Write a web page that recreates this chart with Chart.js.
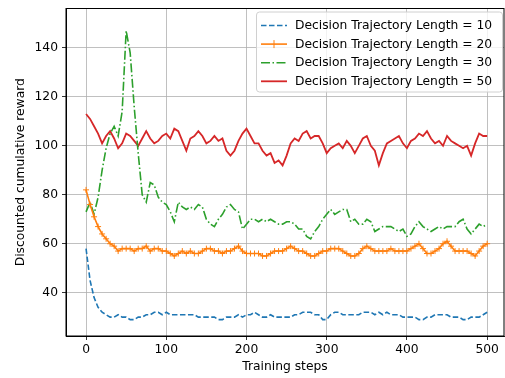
<!DOCTYPE html>
<html>
<head>
<meta charset="utf-8">
<script src="https://cdn.jsdelivr.net/npm/chart.js@4.4.1/dist/chart.umd.min.js"></script>
<style>
  html, body { margin: 0; padding: 0; background: #fff; overflow: hidden; }
  #wrap { width: 505px; height: 378px; }
</style>
</head>
<body>
<div id="wrap"><canvas id="chart" width="505" height="378"></canvas></div>
<script>
// Training steps sampled every 5 steps (0..500)
const steps = Array.from({ length: 101 }, (_, i) => i * 5);

const xTicks = [0, 100, 200, 300, 400, 500];
const yTicks = [40, 60, 80, 100, 120, 140];

const labels = [
    "Decision Trajectory Length = 10",
    "Decision Trajectory Length = 20",
    "Decision Trajectory Length = 30",
    "Decision Trajectory Length = 50"
];

// Values
const len10 = [
    58, 45, 38, 34, 32, 31, 30, 30, 31, 30,
    30, 29, 29, 30, 30, 31, 31, 32, 32, 31,
    32, 31, 31, 31, 31, 31, 31, 31, 30, 30,
    30, 30, 30, 29, 29, 30, 30, 30, 31, 30,
    31, 31, 32, 31, 30, 30, 31, 30, 30, 30,
    30, 30, 31, 31, 32, 32, 32, 31, 31, 29,
    29, 31, 32, 32, 31, 31, 31, 31, 31, 32,
    32, 32, 31, 32, 31, 32, 31, 31, 31, 30,
    30, 30, 30, 29, 29, 30, 30, 31, 31, 31,
    31, 30, 30, 30, 29, 29, 30, 30, 30, 31,
    32
];

const len20 = [
    82, 76, 71, 67, 64, 62, 60, 59, 57, 58,
    58, 58, 57, 58, 58, 59, 57, 58, 58, 57,
    57, 56, 55, 56, 57, 56, 57, 56, 56, 57,
    58, 58, 57, 57, 56, 57, 57, 58, 59, 57,
    56, 56, 56, 56, 55, 55, 56, 57, 57, 57,
    58, 59, 58, 57, 57, 56, 55, 55, 56, 57,
    57, 58, 58, 58, 57, 56, 55, 55, 56, 58,
    59, 58, 57, 57, 57, 57, 58, 57, 57, 57,
    57, 58, 59, 60, 58, 56, 56, 57, 58, 60,
    61, 59, 57, 57, 57, 57, 56, 55, 57, 59,
    60
];

const len30 = [
    73, 77, 72, 79, 90, 99, 105, 108, 104, 114,
    147, 138, 116, 97, 80, 77, 85, 84, 79, 77,
    76, 73, 69, 77, 75, 74, 75, 74, 76, 75,
    70, 68, 67, 70, 72, 75, 76, 74, 73, 66,
    68, 70, 70, 69, 70, 69, 70, 69, 68, 68,
    69, 69, 68, 66, 66, 63, 62, 65, 67, 70,
    72, 74, 72, 73, 74, 74, 69, 70, 68, 68,
    70, 69, 65, 66, 67, 67, 67, 66, 65, 66,
    63, 64, 67, 69, 67, 66, 65, 66, 67, 66,
    67, 67, 67, 69, 70, 66, 64, 66, 68, 67,
    68
];

const len50 = [
    113, 111, 108, 105, 101, 104, 106, 103, 99, 101,
    105, 104, 102, 100, 103, 106, 103, 101, 102, 104,
    105, 103, 107, 106, 102, 98, 103, 104, 106, 104,
    101, 102, 104, 102, 103, 98, 96, 98, 102, 105,
    107, 104, 101, 101, 98, 96, 97, 93, 94, 92,
    96, 101, 103, 102, 105, 106, 103, 104, 104, 101,
    97, 99, 100, 101, 99, 102, 100, 97, 100, 103,
    104, 100, 98, 92, 97, 101, 102, 103, 104, 101,
    99, 102, 103, 105, 104, 106, 103, 101, 102, 100,
    104, 102, 101, 100, 99, 100, 96, 101, 105, 104,
    104
];

function points(values) {
    return values.map((v, i) => ({ x: steps[i], y: v }));
}

const FONT = "DejaVu Sans";
const FONT_SIZE = 12.3;

Chart.defaults.color = "#000";
Chart.defaults.font.family = FONT;
Chart.defaults.font.size = FONT_SIZE;

// Box round the axes, like matplotlib spines
const frame = {
    id: "frame",
    afterDatasetsDraw(chart) {
        const { ctx, chartArea: a } = chart;
        ctx.save();
        ctx.strokeStyle = "#000";
        ctx.lineWidth = 1;
        ctx.strokeRect(a.left, a.top, a.right - a.left, a.bottom - a.top);
        ctx.restore();
    }
};

// Legend drawn by hand so the line samples keep their dash / marker style
const legendBox = {
    id: "legendBox",
    afterDraw(chart) {
        const { ctx, chartArea: a } = chart;
        const w = 246, h = 80;
        const x0 = a.right - 2 - w, y0 = a.top + 3;
        ctx.save();
        ctx.beginPath();
        ctx.roundRect(x0 + 0.5, y0 + 0.5, w, h, 3);
        ctx.fillStyle = "rgba(255,255,255,0.8)";
        ctx.fill();
        ctx.strokeStyle = "#d0d0d0";
        ctx.lineWidth = 1;
        ctx.stroke();
        ctx.font = FONT_SIZE + "px '" + FONT + "'";
        ctx.textBaseline = "middle";
        chart.data.datasets.forEach((ds, i) => {
            const y = y0 + 14 + i * 18.6;
            ctx.strokeStyle = ds.borderColor;
            ctx.lineWidth = ds.borderWidth;
            ctx.setLineDash(ds.borderDash || []);
            ctx.beginPath();
            ctx.moveTo(x0 + 5, y);
            ctx.lineTo(x0 + 31, y);
            ctx.stroke();
            ctx.setLineDash([]);
            if (ds.pointStyle === "cross") {
                ctx.lineWidth = 1;
                ctx.beginPath();
                ctx.moveTo(x0 + 18, y - 4);
                ctx.lineTo(x0 + 18, y + 4);
                ctx.stroke();
            }
            ctx.fillStyle = "#000";
            ctx.fillText(ds.label, x0 + 39, y + 0.5);
        });
        ctx.restore();
    }
};

const gridStyle = {
    color: "#b0b0b0",
    lineWidth: 0.8,
    tickColor: "#000",
    tickLength: 4
};

new Chart(document.getElementById("chart"), {
    type: "line",
    data: {
        datasets: [
            {
                label: labels[0],
                data: points(len10),
                borderColor: "#1f77b4",
                borderWidth: 1.6,
                borderDash: [5.5, 2.5],
                pointRadius: 0
            },
            {
                label: labels[1],
                data: points(len20),
                borderColor: "#ff7f0e",
                borderWidth: 1.6,
                pointStyle: "cross",
                pointRadius: 3,
                pointBorderWidth: 1,
                pointBorderColor: "#ff7f0e"
            },
            {
                label: labels[2],
                data: points(len30),
                borderColor: "#2ca02c",
                borderWidth: 1.6,
                borderDash: [9, 2.5, 1.5, 2.5],
                pointRadius: 0
            },
            {
                label: labels[3],
                data: points(len50),
                borderColor: "#d62728",
                borderWidth: 1.8,
                pointRadius: 0
            }
        ]
    },
    options: {
        responsive: false,
        animation: false,
        layout: {
            autoPadding: false,
            padding: { top: 8.5, right: 1, bottom: 0, left: 0 }
        },
        plugins: {
            legend: { display: false },
            tooltip: { enabled: false }
        },
        elements: { line: { tension: 0 } },
        scales: {
            x: {
                type: "linear",
                min: -25,
                max: 521,
                grid: gridStyle,
                border: { color: "#000", width: 1 },
                afterBuildTicks: (s) => { s.ticks = xTicks.map(v => ({ value: v })); },
                afterFit: (s) => {
                    s.height = 42;
                    s.paddingLeft = 0;
                    s.paddingRight = 0;
                },
                ticks: { padding: 2, maxRotation: 0 },
                title: {
                    display: true,
                    text: "Training steps",
                    padding: { top: 0, bottom: 4 }
                }
            },
            y: {
                type: "linear",
                min: 22.3,
                max: 156.1,
                grid: gridStyle,
                border: { color: "#000", width: 1 },
                afterBuildTicks: (s) => { s.ticks = yTicks.map(v => ({ value: v })); },
                afterFit: (s) => {
                    s.width = 66;
                    s.paddingTop = 0;
                    s.paddingBottom = 0;
                },
                ticks: { padding: 4 },
                title: {
                    display: true,
                    text: "Discounted cumulative reward",
                    padding: { top: 13, bottom: 0 }
                }
            }
        }
    },
    plugins: [frame, legendBox]
});
</script>
</body>
</html>
